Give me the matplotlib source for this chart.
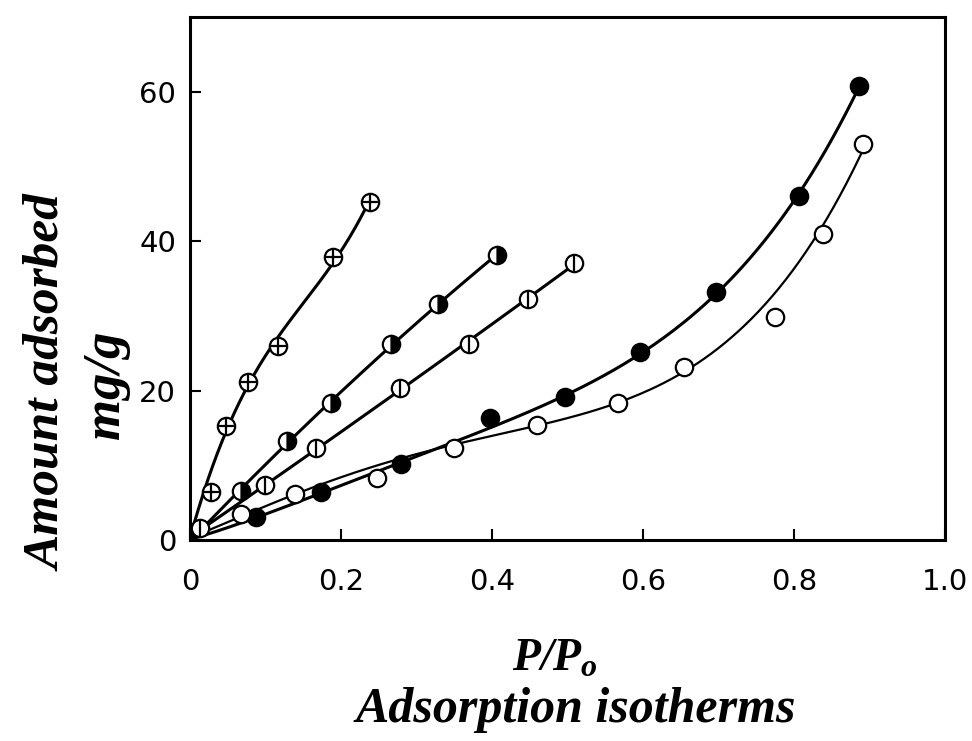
import numpy as np
from matplotlib import pyplot as plt

# data (P/Po, amount adsorbed mg/g)
x_plus = [0.028, 0.048, 0.077, 0.117, 0.189, 0.238]
y_plus = [6.4, 15.2, 21.1, 25.9, 37.9, 45.2]
on_plus = [0, 1, 1, 1, 1, 1]  # 0 = point lies off the drawn curve

x_half = [0.068, 0.128, 0.187, 0.266, 0.329, 0.406]
y_half = [6.5, 13.2, 18.3, 26.2, 31.6, 38.1]
on_half = [1, 1, 1, 1, 1, 1]

x_bar = [0.013, 0.099, 0.167, 0.278, 0.369, 0.448, 0.508]
y_bar = [1.6, 7.3, 12.3, 20.3, 26.2, 32.2, 37.1]
on_bar = [1, 1, 1, 1, 1, 1, 1]

x_full = [0.088, 0.174, 0.279, 0.398, 0.497, 0.596, 0.697, 0.807, 0.886]
y_full = [3.1, 6.4, 10.2, 16.3, 19.2, 25.1, 33.2, 46.0, 60.8]
on_full = [1, 1, 1, 0, 1, 1, 1, 1, 1]

x_open = [0.067, 0.139, 0.248, 0.350, 0.460, 0.567, 0.654, 0.775, 0.838, 0.892]
y_open = [3.5, 6.2, 8.3, 12.3, 15.4, 18.3, 23.2, 29.8, 41.0, 53.0]
on_open = [1, 1, 0, 1, 1, 1, 1, 0, 1, 1]

x_ticks = [0, 0.2, 0.4, 0.6, 0.8, 1.0]
x_ticklabels = ['0', '0.2', '0.4', '0.6', '0.8', '1.0']
y_ticks = [0, 20, 40, 60]

plt.rcParams['mathtext.fontset'] = 'custom'
plt.rcParams['mathtext.it'] = 'Liberation Serif:italic:bold'
plt.rcParams['mathtext.rm'] = 'Liberation Serif:italic:bold'

fig = plt.figure(figsize=(9.72, 7.41), dpi=100)
ax = fig.add_axes([190 / 972, 201 / 741, 755 / 972, 523 / 741])


def fit_curve(xs, ys, on, deg, lw):
    # smooth hand-drawn style curve through the origin and the on-curve points
    px = np.r_[0.0, xs]
    py = np.r_[0.0, ys]
    w = np.r_[1.0, on] + 1e-6
    c = np.polyfit(px, py, deg, w=w)
    xx = np.linspace(0, xs[-1], 200)
    ax.plot(xx, np.polyval(c, xx), color='black', lw=lw, zorder=2)


fit_curve(x_plus, y_plus, on_plus, 3, 2.2)
fit_curve(x_half, y_half, on_half, 2, 2.2)
fit_curve(x_bar, y_bar, on_bar, 2, 2.2)
fit_curve(x_full, y_full, on_full, 4, 2.2)
fit_curve(x_open, y_open, on_open, 4, 1.6)

ms = 12.5
mew = 1.6
# circle with plus
ax.plot(x_plus, y_plus, 'o', ms=ms, mfc='white', mec='black', mew=mew, ls='none', zorder=3)
ax.plot(x_plus, y_plus, '+', ms=ms, mec='black', mew=mew, ls='none', zorder=4)
# half filled circles
ax.plot(x_half, y_half, 'o', ms=ms, fillstyle='right', mfc='black', mfcalt='white',
        mec='black', mew=mew, ls='none', zorder=3)
# circle with vertical bar
ax.plot(x_bar, y_bar, 'o', ms=ms, mfc='white', mec='black', mew=mew, ls='none', zorder=3)
ax.plot(x_bar, y_bar, '|', ms=ms, mec='black', mew=mew, ls='none', zorder=4)
# filled and open circles
ax.plot(x_full, y_full, 'o', ms=ms, mfc='black', mec='black', mew=mew, ls='none', zorder=3)
ax.plot(x_open, y_open, 'o', ms=ms, mfc='white', mec='black', mew=mew, ls='none', zorder=3)

ax.set_xlim(0, 1.0)
ax.set_ylim(0, 70)
ax.set_xticks(x_ticks)
ax.set_xticklabels(x_ticklabels)
ax.set_yticks(y_ticks)
ax.tick_params(direction='in', length=8, width=1.5, labelsize=21)
ax.tick_params(axis='x', pad=20)
ax.tick_params(axis='y', pad=10)
for s in ax.spines.values():
    s.set_linewidth(2.2)

script = dict(family='Liberation Serif', style='italic', weight='bold')
fig.text(555 / 972, 1 - 658 / 741, r'$P/P_o$', fontsize=33, ha='center', va='center')
fig.text(576 / 972, 1 - 710 / 741, 'Adsorption isotherms', fontsize=36,
         ha='center', va='center', **script)
fig.text(48 / 972, 1 - 383 / 741, 'Amount adsorbed', fontsize=37, rotation=90,
         ha='center', va='center', **script)
fig.text(106 / 972, 1 - 385 / 741, 'mg/g', fontsize=38, rotation=90,
         ha='center', va='center', **script)

plt.savefig('out.png', dpi=100)
